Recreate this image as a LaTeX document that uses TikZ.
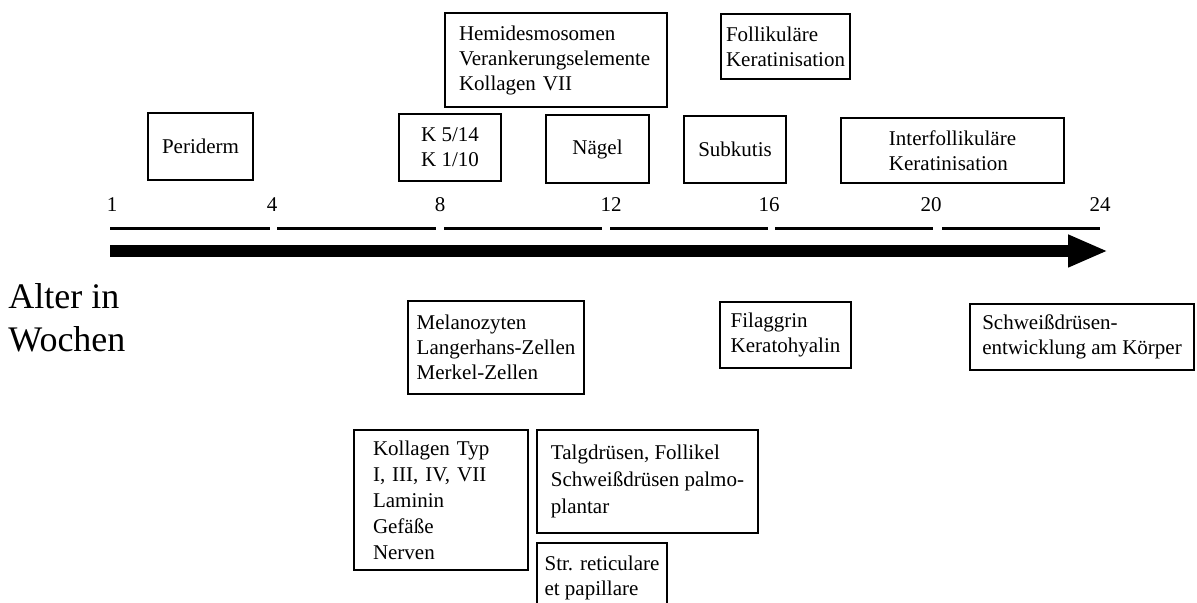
\documentclass[tikz,border=0pt]{standalone}
\usepackage{fontspec}
\setmainfont{Liberation Serif}
\usepackage{tikz}
\usetikzlibrary{arrows.meta}

\tikzset{
  stagebox/.style={draw, line width=1pt, inner sep=0pt, anchor=north west, align=left,
    font=\fontsize{10.5}{12.5}\selectfont},
  weeknum/.style={anchor=base, inner sep=0pt, font=\fontsize{10.5}{12.5}\selectfont},
  weekseg/.style={line width=1.5pt}
}

\begin{document}
\begin{tikzpicture}[x=0.5pt,y=-0.5pt]
\clip (0,0) rectangle (1197,603);

% weeks above the time axis
\node[weeknum] (w1) at (112,212) {1};
\node[weeknum] (w4) at (272,212) {4};
\node[weeknum] (w8) at (440,212) {8};
\node[weeknum] (w12) at (611,212) {12};
\node[weeknum] (w16) at (769,212) {16};
\node[weeknum] (w20) at (931,212) {20};
\node[weeknum] (w24) at (1100,212) {24};
\foreach \a/\b in {110/270,277/436,444/602,610/768,775/933,942/1100}
  \draw[weekseg] (\a,229) -- (\b,229);

% time axis
\coordinate (axstart) at (110,251);
\coordinate (axtip) at (1108,251);
\draw[line width=6pt,-{Triangle[length=20pt,width=15pt]}] (axstart) -- (axtip);

\node[anchor=west, inner sep=0pt, align=left, font=\fontsize{18}{21.5}\selectfont] (alter) at (8,318) {Alter in\\Wochen};

% above the axis
\node[stagebox, minimum width=52.5pt, minimum height=33.5pt] (periderm) at (147,112) {Periderm};
\node[stagebox, minimum width=51pt, minimum height=33.5pt] (keratin) at (398,113) {K 5/14\\K 1/10};
\node[stagebox, minimum width=111pt, minimum height=47pt, text width=97pt] (hemi) at (444,12) {Hemidesmosomen\\Verankerungselemente\\Kollagen VII};
\node[stagebox, minimum width=51.5pt, minimum height=34pt] (naegel) at (545,114) {Nägel};
\node[stagebox, minimum width=64.5pt, minimum height=32.5pt] (follik) at (720,13) {Follikuläre\\Keratinisation};
\node[stagebox, minimum width=51pt, minimum height=33.5pt] (subkutis) at (683,115) {Subkutis};
\node[stagebox, minimum width=111.5pt, minimum height=32.5pt] (interfoll) at (840,117) {Interfollikuläre\\Keratinisation};

% below the axis
\node[stagebox, minimum width=88pt, minimum height=46.5pt] (melano) at (407,300) {Melanozyten\\Langerhans-Zellen\\Merkel-Zellen};
\node[stagebox, minimum width=65.5pt, minimum height=33pt] (filag) at (719,301) {Filaggrin\\Keratohyalin};
\node[stagebox, minimum width=112pt, minimum height=33pt] (schweiss) at (969,303) {Schweißdrüsen-\\entwicklung am Körper};
\node[stagebox, minimum width=87pt, minimum height=70pt, text width=68pt,
  font=\fontsize{10.5}{13}\selectfont] (kollagen) at (353,429) {Kollagen Typ\\I, III, IV, VII\\Laminin\\Gefäße\\Nerven};
\node[stagebox, minimum width=110.5pt, minimum height=51.5pt,
  font=\fontsize{10.5}{13.5}\selectfont] (talg) at (536,429) {Talgdrüsen, Follikel\\Schweißdrüsen palmo-\\plantar};
\node[stagebox, minimum width=65pt, minimum height=35pt] (reticul) at (536,542) {Str. reticulare\\et papillare};

\end{tikzpicture}
\end{document}
